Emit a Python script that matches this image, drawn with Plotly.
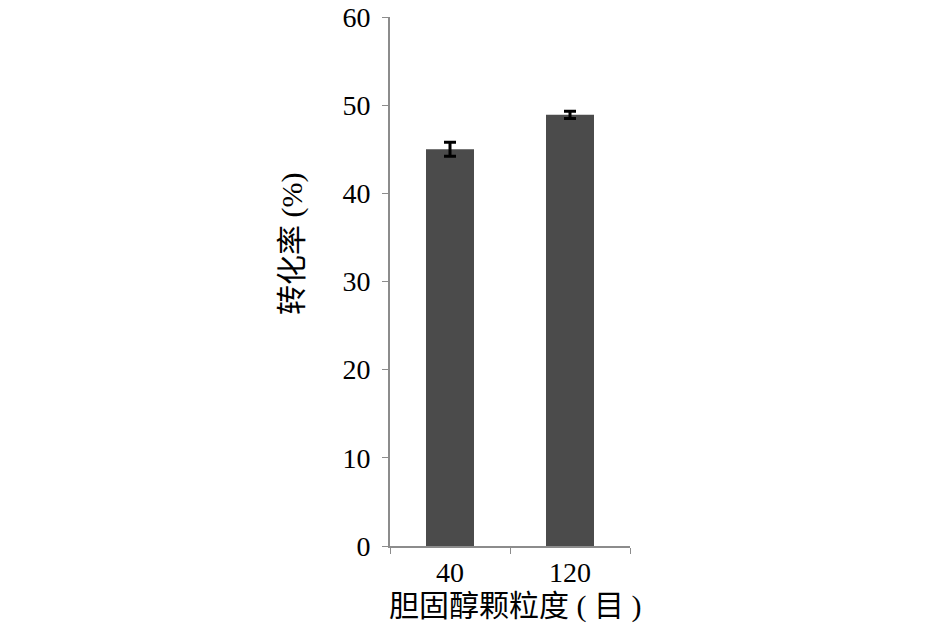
import plotly.graph_objects as go

categories = ["40", "120"]
values = [45.0, 48.9]
errors = [0.8, 0.4]
y_ticks = [0, 10, 20, 30, 40, 50, 60]
x_title = "胆固醇颗粒度 ( 目 )"
y_title = "转化率 (%)"

font_fam = "Liberation Serif, Noto Sans CJK SC, serif"

fig = go.Figure()
fig.add_trace(go.Bar(
    x=categories, y=values,
    marker=dict(color="#4b4b4b", line=dict(width=0)),
    error_y=dict(type="data", array=errors, visible=True, color="black", thickness=3, width=6),
))

fig.update_layout(
    width=945, height=625,
    margin=dict(l=390, r=315, t=17, b=79),
    plot_bgcolor="white", paper_bgcolor="white",
    bargap=0.6, showlegend=False,
    font=dict(family=font_fam, size=24, color="black"),
    annotations=[
        dict(text=x_title, xref="paper", yref="paper", x=0.521, y=-0.113,
             showarrow=False, xanchor="center", yanchor="middle",
             font=dict(size=30, family=font_fam)),
        dict(text=y_title, xref="paper", yref="paper", x=-0.408, y=0.571,
             showarrow=False, xanchor="center", yanchor="middle", textangle=-90,
             font=dict(size=30, family=font_fam)),
    ],
)
fig.update_xaxes(
    type="category", showline=True, linecolor="#8c8c8c", linewidth=2,
    ticks="outside", tickson="boundaries", ticklen=6, tickcolor="#8c8c8c", tickwidth=1,
    tickfont=dict(size=28, family=font_fam), ticklabelstandoff=0,
    showgrid=False, automargin=False,
)
fig.update_yaxes(
    range=[0, 60], tickvals=y_ticks, showline=True, linecolor="#8c8c8c", linewidth=2,
    ticks="outside", ticklen=6, tickcolor="#8c8c8c", tickwidth=1,
    tickfont=dict(size=28, family=font_fam), ticklabeloverflow="allow", ticklabelstandoff=6,
    showgrid=False, zeroline=False, automargin=False,
)

fig.write_html("out.html", config={"displayModeBar": False},
               post_script="document.body.style.margin='0';")
